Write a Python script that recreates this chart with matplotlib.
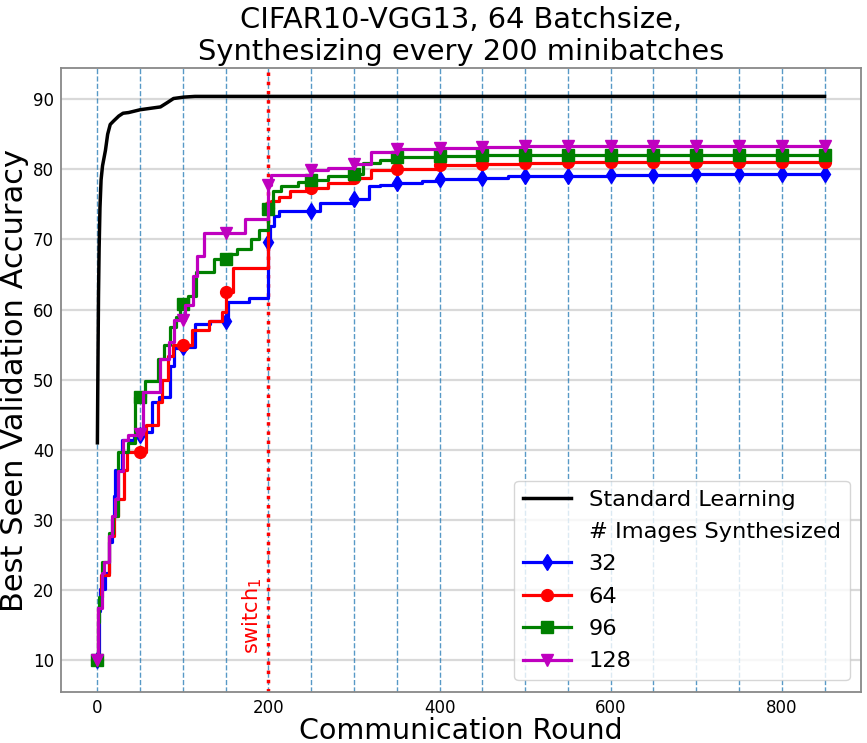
import numpy as np
import matplotlib
matplotlib.use('Agg')
import matplotlib.pyplot as plt

# standard learning (no synthesis)
std_rounds = [0, 0.4, 0.8, 1.3, 2, 3, 4.3, 6, 9.4, 12, 15, 19, 25, 30, 36.6, 50, 73.7, 81.5, 89, 101, 114, 850]
std_acc = [41, 48, 54.5, 62, 68.6, 74.5, 78.5, 80.5, 82.7, 85, 86.4, 86.9, 87.6, 88, 88.1, 88.5, 88.9, 89.5, 90.1, 90.3, 90.4, 90.4]

# best seen accuracy, 32 images synthesized
r32 = [0, 2, 3, 9, 13, 17, 19, 21, 29, 43, 50, 53, 64, 72, 85, 90, 100, 114, 132, 150, 153, 177,
       200, 202, 206, 212, 250, 260, 300, 318, 330, 350, 380, 400, 450, 480, 500, 550, 600, 650,
       700, 750, 800, 850]
a32 = [10, 17, 20.2, 22.5, 26.8, 30.1, 33.4, 37.1, 41.4, 42.1, 42.1, 42.5, 46.8, 47.5, 52, 54.5,
       54.7, 58, 58.3, 58.3, 61.1, 61.6, 69.6, 71.9, 73.4, 74, 74, 75.2, 75.7, 77.6, 77.8, 78,
       78.4, 78.6, 78.7, 79, 79, 79.1, 79.2, 79.2, 79.3, 79.3, 79.3, 79.3]

# 64 images
r64 = [0, 1, 4, 13, 19, 24, 31, 35, 50, 57, 71, 75, 83, 88, 100, 111, 130, 146, 150, 159, 200,
       203, 212, 225, 250, 270, 300, 320, 350, 400, 450, 500, 550, 600, 650, 700, 750, 800, 850]
a64 = [10, 17.4, 22.1, 27.7, 30.5, 33, 37.1, 39.7, 39.7, 43.5, 46.8, 50, 53.4, 55, 55, 57.1, 58.3,
       59.7, 62.5, 66, 74.5, 75.5, 76.1, 76.9, 77.3, 78, 78.7, 79.9, 80.1, 80.6, 80.8, 80.9, 81,
       81, 81, 81, 81, 81, 81]

# 96 images
r96 = [0, 1, 2, 5, 13, 18, 24, 36, 44, 50, 56, 71, 78, 85, 92, 97, 100, 106, 115, 136, 150, 153,
       163, 179, 189, 200, 205, 215, 235, 250, 270, 300, 310, 330, 350, 400, 450, 500, 550, 600,
       650, 700, 750, 800, 850]
a96 = [10, 15.5, 19, 24, 28.2, 30.6, 39.7, 41, 47.5, 47.5, 49.8, 52.9, 55, 57.5, 59, 60.8, 60.8,
       62, 65.3, 67.2, 67.2, 67.9, 68.6, 70, 71.4, 74.3, 76.9, 77.6, 78.2, 78.5, 79, 79.4, 80.9,
       81.4, 81.7, 81.9, 82, 82.1, 82.1, 82.1, 82.1, 82.1, 82.1, 82.1, 82.1]

# 128 images
r128 = [0, 1, 5, 8, 13, 17, 21, 24, 30, 36, 50, 53, 73, 84, 90, 100, 102, 112, 117, 125, 150, 173,
        200, 203, 250, 270, 300, 320, 350, 400, 450, 500, 550, 600, 650, 700, 750, 800, 850]
a128 = [10, 17.4, 22.5, 24, 27.7, 30.5, 33, 37, 41.4, 42.1, 42.3, 48.2, 52.9, 55.4, 58.5, 58.5,
        60.6, 64.8, 67.6, 70.9, 70.9, 72.9, 77.7, 79.2, 79.9, 80.2, 80.7, 82.5, 82.9, 83.1, 83.2,
        83.3, 83.3, 83.3, 83.3, 83.3, 83.3, 83.3, 83.3]

series = [
    (r32, a32, 'b', 'd', '32'),
    (r64, a64, 'r', 'o', '64'),
    (r96, a96, 'g', 's', '96'),
    (r128, a128, 'm', 'v', '128'),
]

fig = plt.figure(figsize=(8.67, 7.43), dpi=100)
ax = fig.add_subplot(111)
fig.subplots_adjust(left=0.0704, right=0.993, bottom=0.069, top=0.908)

# every 50 rounds a synthesis marker line
for xv in range(0, 851, 50):
    ax.axvline(xv, color='#1f77b4', linestyle='--', linewidth=1, alpha=0.75, zorder=1)
ax.yaxis.grid(True, color='#d9d9d9', linewidth=1.6, zorder=0)
ax.set_axisbelow(True)

ax.plot(std_rounds, std_acc, color='k', linewidth=2.5, label='Standard Learning', zorder=3)
ax.plot([], [], ' ', label='# Images Synthesized')

for rounds, acc, c, m, lab in series:
    assert len(rounds) == len(acc)
    marks = [i for i, r in enumerate(rounds) if r % 50 == 0]
    ax.plot(rounds, acc, color=c, drawstyle='steps-post', linewidth=2.3, marker=m,
            markersize=8.5, markevery=marks, label=lab, zorder=3)

ax.axvline(200, color='red', linestyle=':', linewidth=2.5, zorder=2)
ax.text(181, 16.3, 'switch$_1$', rotation=90, color='red', fontsize=15,
        ha='center', va='center')

ax.set_xlim(-42.5, 892.5)
ax.set_ylim(5.5, 94.4)
ax.set_xticks([0, 200, 400, 600, 800])
ax.set_yticks(range(10, 91, 10))
ax.tick_params(labelsize=12, length=0, pad=5)
for sp in ax.spines.values():
    sp.set_color('#888888')
    sp.set_linewidth(1.3)

ax.set_xlabel('Communication Round', fontsize=20.5, labelpad=0)
ax.set_ylabel('Best Seen Validation Accuracy', fontsize=22, labelpad=3)
ax.set_title('CIFAR10-VGG13, 64 Batchsize,\nSynthesizing every 200 minibatches', fontsize=20.8)

ax.legend(loc='lower right', fontsize=16.2, handlelength=2.1, labelspacing=0.55)

plt.savefig('out.png', dpi=100)
